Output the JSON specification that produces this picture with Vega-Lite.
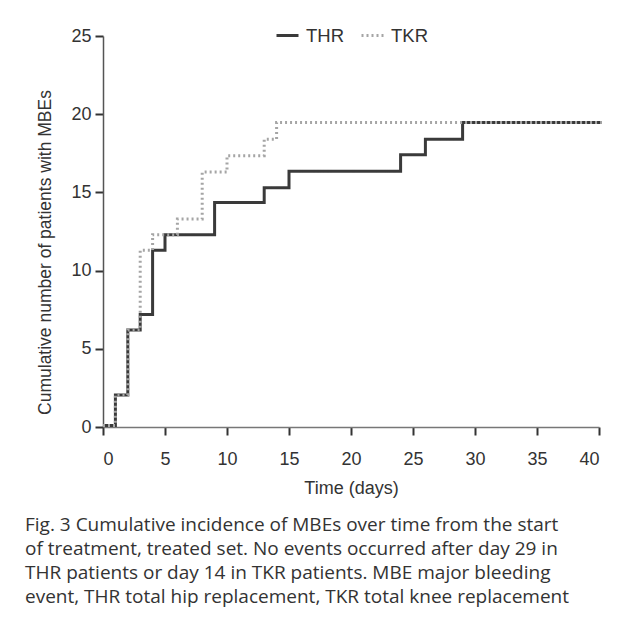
{
  "$schema": "https://vega.github.io/schema/vega-lite/v6.json",
  "autosize": {"type": "none"},
  "width": 496,
  "height": 391,
  "padding": {"left": 103, "top": 36, "right": 28, "bottom": 197},
  "background": "white",
  "data": {
    "values": [
      {"group": "THR", "day": 0, "n": 0.1},
      {"group": "THR", "day": 1, "n": 2.05},
      {"group": "THR", "day": 2, "n": 6.2},
      {"group": "THR", "day": 3, "n": 7.2},
      {"group": "THR", "day": 4, "n": 11.3},
      {"group": "THR", "day": 5, "n": 12.3},
      {"group": "THR", "day": 9, "n": 14.35},
      {"group": "THR", "day": 13, "n": 15.3},
      {"group": "THR", "day": 15, "n": 16.35},
      {"group": "THR", "day": 24, "n": 17.4},
      {"group": "THR", "day": 26, "n": 18.4},
      {"group": "THR", "day": 29, "n": 19.47},
      {"group": "THR", "day": 40.2, "n": 19.47},
      {"group": "TKR", "day": 0, "n": 0.1},
      {"group": "TKR", "day": 1, "n": 2.05},
      {"group": "TKR", "day": 2, "n": 6.2},
      {"group": "TKR", "day": 3, "n": 11.3},
      {"group": "TKR", "day": 4, "n": 12.3},
      {"group": "TKR", "day": 6, "n": 13.3},
      {"group": "TKR", "day": 8, "n": 16.3},
      {"group": "TKR", "day": 10, "n": 17.35},
      {"group": "TKR", "day": 13, "n": 18.4},
      {"group": "TKR", "day": 14, "n": 19.47},
      {"group": "TKR", "day": 40.2, "n": 19.47}
    ]
  },
  "mark": {"type": "line", "interpolate": "step-after", "strokeWidth": 3, "clip": false},
  "encoding": {
    "x": {
      "field": "day", "type": "quantitative",
      "scale": {"domain": [0, 40], "nice": false, "zero": false},
      "axis": {"values": [0, 5, 10, 15, 20, 25, 30, 35, 40], "title": "Time (days)", "grid": false,
               "domainColor": "#777", "domainWidth": 1.5, "tickColor": "#333", "tickWidth": 2, "tickSize": 8,
               "labelPadding": 15, "labelFontSize": 18, "labelColor": "#333", "labelFont": "Liberation Sans",
               "titleFont": "Liberation Sans", "titleFontSize": 18, "titleFontWeight": "normal", "titleColor": "#333", "titlePadding": 11}
    },
    "y": {
      "field": "n", "type": "quantitative",
      "scale": {"domain": [0, 25], "nice": false},
      "axis": {"values": [0, 5, 10, 15, 20, 25], "title": "Cumulative number of patients with MBEs", "grid": false,
               "domainColor": "#555", "domainWidth": 1.5, "tickColor": "#333", "tickWidth": 2, "tickSize": 8,
               "labelPadding": 4, "labelFontSize": 18, "labelColor": "#333", "labelFont": "Liberation Sans",
               "titleFont": "Liberation Sans", "titleFontSize": 17.5, "titleFontWeight": "normal", "titleColor": "#333", "titlePadding": 16, "titleY": 216}
    },
    "color": {
      "field": "group", "type": "nominal", "title": null,
      "scale": {"domain": ["THR", "TKR"], "range": ["#3a3a3a", "#a5a5a5"]},
      "legend": {"orient": "none", "legendX": 172, "legendY": -13, "direction": "horizontal",
                 "symbolType": "stroke", "symbolSize": 484, "symbolStrokeWidth": 3, "labelFontSize": 18.5,
                 "labelFont": "Liberation Sans", "labelColor": "#333", "columnPadding": 10, "labelOffset": 6}
    },
    "strokeDash": {
      "field": "group", "type": "nominal", "title": null,
      "scale": {"domain": ["THR", "TKR"], "range": [[1, 0], [2, 3]]}
    },
    "order": {"field": "day"}
  },
  "title": {
    "text": [
      "Fig. 3 Cumulative incidence of MBEs over time from the start",
      "of treatment, treated set. No events occurred after day 29 in",
      "THR patients or day 14 in TKR patients. MBE major bleeding",
      "event, THR total hip replacement, TKR total knee replacement"
    ],
    "orient": "bottom", "anchor": "start", "frame": "group",
    "font": "Open Sans", "fontSize": 19, "fontWeight": "normal", "color": "#333",
    "lineHeight": 24, "dx": -78, "offset": 19
  },
  "config": {"view": {"stroke": null}}
}
